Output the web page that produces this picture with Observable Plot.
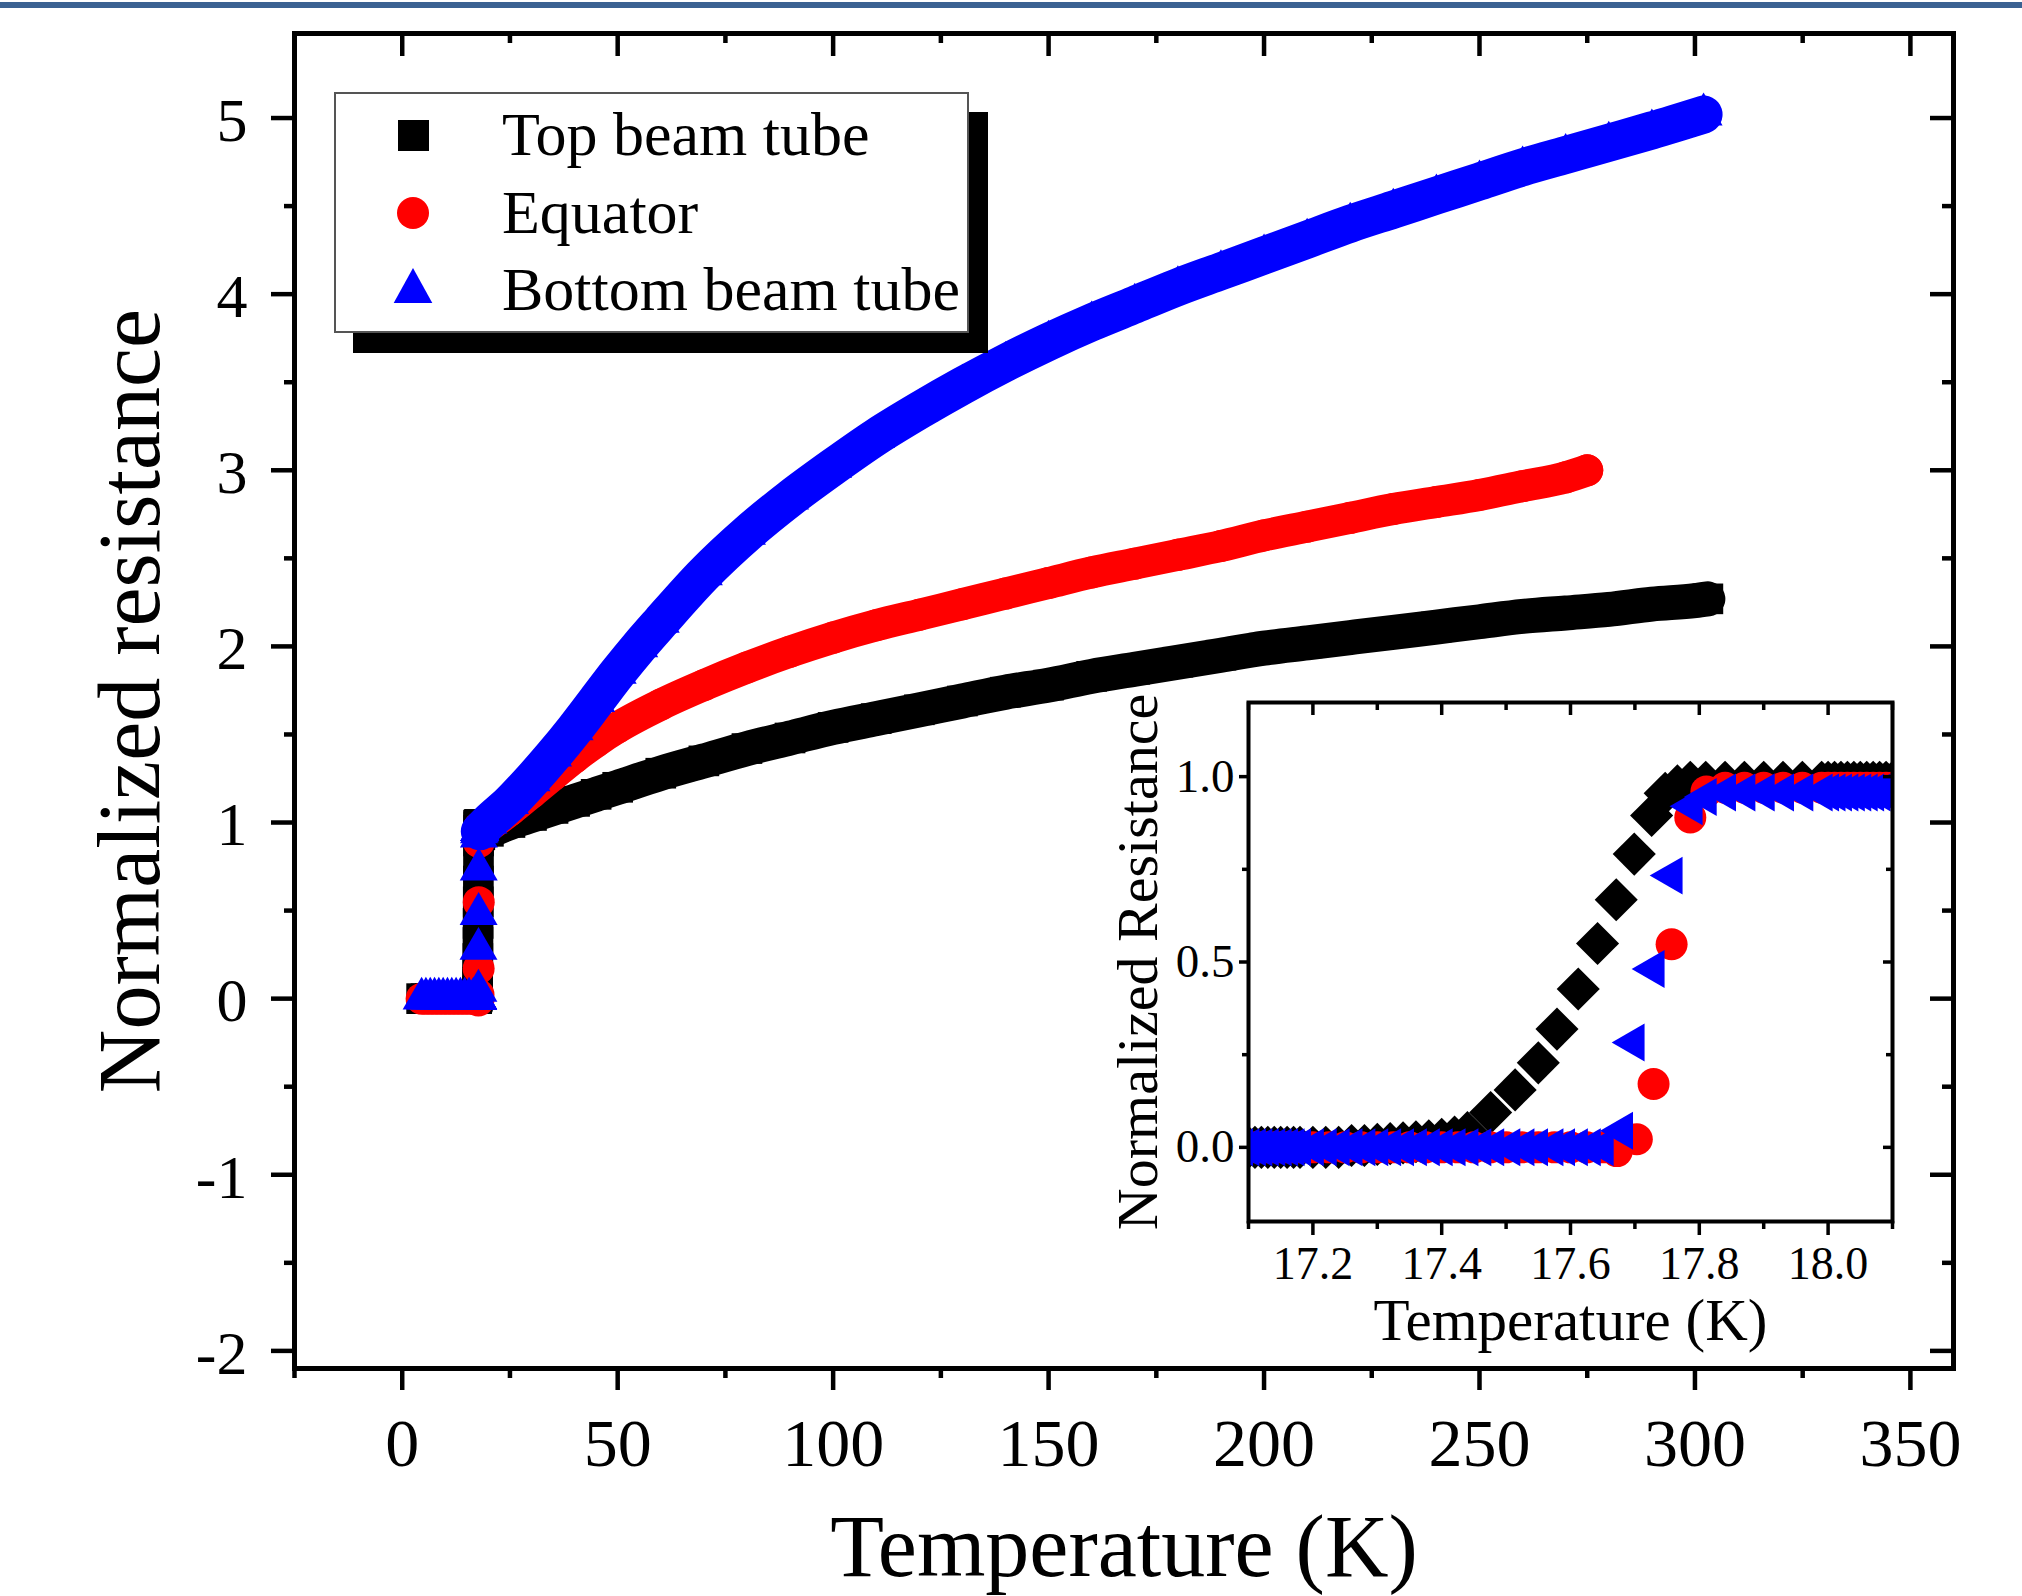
<!DOCTYPE html>
<html>
<head>
<meta charset="utf-8">
<script src="https://cdn.jsdelivr.net/npm/d3@7"></script>
<script src="https://cdn.jsdelivr.net/npm/@observablehq/plot@0.6"></script>
<style>
html,body{margin:0;padding:0;background:#fff;}
#wrap{position:relative;width:2022px;height:1596px;overflow:hidden;font-family:"Liberation Serif","Times New Roman",serif;background:#fff;}
#topbar{position:absolute;left:0;top:2px;width:2022px;height:6px;background:#3b6292;}
#main{position:absolute;left:0;top:0;}
#inset{position:absolute;left:1040px;top:660px;}
#legend{position:absolute;left:334px;top:92px;width:635px;height:241px;box-sizing:border-box;border:2px solid #555;background:#fff;box-shadow:19px 20px 0 #000;}
#legend svg{position:absolute;left:0;top:0;}
</style>
</head>
<body>
<div id="wrap">
  <div id="topbar"></div>
  <div id="main"></div>
  <div id="inset"></div>
  <div id="legend">
    <svg width="631" height="237" font-family="Liberation Serif, Times New Roman, serif" font-size="62">
      <rect x="62" y="26" width="31" height="31" fill="#000"></rect>
      <text x="166" y="61" fill="#000">Top beam tube</text>
      <circle cx="77" cy="119" r="16" fill="#ff0000"></circle>
      <text x="166" y="139" fill="#000">Equator</text>
      <polygon points="77,174 57.7,209 96.3,209" fill="#0000ff"></polygon>
      <text x="166" y="216" fill="#000">Bottom beam tube</text>
    </svg>
  </div>
</div>
<script>
// ---------- Data ----------
const seriesNames = ["Top beam tube", "Equator", "Bottom beam tube"];

// low temperature, superconducting state (main plot)
const lowT = [4.5,5.5,6.5,7.5,8.5,9.5,10.5,11.5,12.5,13.5,14.5,15.5,16.5];
const lowR = [0,0,0,0,0,0,0,0,0,0,0,0,0];

// normal state, main plot
const topT = [18,20,25,30,35,40,45,50,60,70,80,90,100,110,120,130,140,150,160,170,180,190,200,210,220,230,240,250,260,270,280,290,300,303];
const topR = [0.93,0.95,1.0,1.04,1.08,1.12,1.16,1.2,1.28,1.35,1.42,1.48,1.54,1.59,1.64,1.69,1.74,1.78,1.83,1.87,1.91,1.95,1.99,2.02,2.05,2.08,2.11,2.14,2.17,2.19,2.21,2.24,2.26,2.27];

const eqT = [18,20,25,30,35,40,45,50,60,70,80,90,100,110,120,130,140,150,160,170,180,190,200,210,220,230,240,250,260,270,275];
const eqR = [0.95,0.98,1.07,1.17,1.27,1.37,1.46,1.54,1.67,1.78,1.88,1.97,2.05,2.12,2.18,2.24,2.30,2.36,2.42,2.47,2.52,2.57,2.63,2.68,2.73,2.78,2.82,2.86,2.91,2.96,3.0];

const botT = [18,20,25,30,35,40,45,50,55,60,70,80,90,100,110,120,130,140,150,160,170,180,190,200,210,220,230,240,250,260,270,280,290,302];
const botR = [0.95,1.0,1.11,1.24,1.38,1.53,1.69,1.85,2.0,2.14,2.41,2.64,2.84,3.02,3.19,3.34,3.48,3.61,3.73,3.84,3.94,4.04,4.13,4.22,4.31,4.40,4.48,4.56,4.64,4.72,4.79,4.86,4.93,5.02];

// transition region (inset, also drawn in main plot)
const insetTopT = [17.09,17.10,17.11,17.12,17.13,17.14,17.15,17.16,17.17,17.18,17.20,17.22,17.24,17.26,17.28,17.30,17.32,17.34,17.36,17.38,17.40,17.42,17.44,17.476,17.514,17.55,17.579,17.612,17.642,17.671,17.699,17.726,17.747,17.766,17.786,17.81,17.84,17.87,17.90,17.93,17.96,17.99,18.00,18.01,18.02,18.03,18.04,18.05,18.06,18.07,18.08,18.09,18.10,18.11];
const insetTopR = [0,0,0,0,0,0,0,0,0,0,0,0,0,0.005,0.005,0.008,0.01,0.012,0.015,0.018,0.022,0.028,0.04,0.094,0.155,0.228,0.319,0.427,0.55,0.668,0.791,0.895,0.955,0.975,0.985,0.985,0.985,0.985,0.985,0.985,0.985,0.985,0.985,0.985,0.985,0.985,0.985,0.985,0.985,0.985,0.985,0.985,0.985,0.985];

const insetEqT = [17.09,17.10,17.11,17.12,17.13,17.14,17.15,17.16,17.17,17.18,17.20,17.225,17.25,17.275,17.30,17.325,17.35,17.375,17.40,17.425,17.45,17.475,17.50,17.525,17.55,17.575,17.60,17.625,17.65,17.672,17.703,17.729,17.757,17.786,17.811,17.84,17.87,17.90,17.93,17.96,17.99,18.00,18.01,18.02,18.03,18.04,18.05,18.06,18.07,18.08,18.09,18.10,18.11];
const insetEqR = [0,0,0,0,0,0,0,0,0,0,0,0,0,0,0,0,0,0,0,0,0,0,0,0,0,0,0,0,0,-0.01,0.022,0.171,0.548,0.89,0.96,0.97,0.97,0.97,0.97,0.97,0.97,0.97,0.97,0.97,0.97,0.97,0.97,0.97,0.97,0.97,0.97,0.97,0.97];

const insetBotT = [17.09,17.10,17.11,17.12,17.13,17.14,17.15,17.16,17.17,17.18,17.20,17.22,17.24,17.26,17.28,17.30,17.32,17.34,17.36,17.38,17.40,17.42,17.44,17.46,17.48,17.505,17.527,17.548,17.572,17.59,17.61,17.63,17.65,17.68,17.698,17.729,17.757,17.788,17.81,17.84,17.87,17.90,17.93,17.96,17.99,18.00,18.01,18.02,18.03,18.04,18.05,18.06,18.07,18.08,18.09,18.10,18.11];
const insetBotR = [0,0,0,0,0,0,0,0,0,0,0,0,0,0,0,0,0,0,0,0,0,0,0,0,0,0,0,0,0,0,0,0,0,0.045,0.283,0.481,0.733,0.92,0.945,0.957,0.957,0.957,0.957,0.957,0.957,0.957,0.957,0.957,0.957,0.957,0.957,0.957,0.957,0.957,0.957,0.957,0.957];

// ticks
const xMajor = [0,50,100,150,200,250,300,350];
const xMinor = [-25,25,75,125,175,225,275,325];
const yMajor = [-2,-1,0,1,2,3,4,5];
const yMinor = [-1.5,-0.5,0.5,1.5,2.5,3.5,4.5];
const ixMajor = [17.2,17.4,17.6,17.8,18.0];
const ixMinor = [17.1,17.3,17.5,17.7,17.9,18.1];
const iyMajor = [0,0.5,1.0];
const iyMinor = [0.25,0.75];

// ---------- helpers ----------
const zip = (T, R) => T.map((t, i) => ({t, r: R[i]}));
const FONT = "Liberation Serif, Times New Roman, serif";

function frameTicks(iw, ih, xs, ys, o) {
  const m = [];
  m.push(Plot.tickX(xs.major, {x: d => d, insetTop: ih, insetBottom: -o.xOutMaj, strokeWidth: o.sw}));
  m.push(Plot.tickX(xs.minor, {x: d => d, insetTop: ih, insetBottom: -o.xOutMin, strokeWidth: o.sw}));
  m.push(Plot.tickX(xs.major, {x: d => d, insetBottom: ih - o.xInMaj, strokeWidth: o.sw}));
  m.push(Plot.tickX(xs.minor, {x: d => d, insetBottom: ih - o.xInMin, strokeWidth: o.sw}));
  m.push(Plot.tickY(ys.major, {y: d => d, insetLeft: -o.yOutMaj, insetRight: iw, strokeWidth: o.sw}));
  m.push(Plot.tickY(ys.minor, {y: d => d, insetLeft: -o.yOutMin, insetRight: iw, strokeWidth: o.sw}));
  m.push(Plot.tickY(ys.major, {y: d => d, insetLeft: iw - o.yInMaj, strokeWidth: o.sw}));
  m.push(Plot.tickY(ys.minor, {y: d => d, insetLeft: iw - o.yInMin, strokeWidth: o.sw}));
  return m;
}

// ---------- main plot ----------
const W = 2022, H = 1596, mL = 294, mR = 69, mT = 33, mB = 228;
const iw = W - mL - mR, ih = H - mT - mB;

const topDots = [...zip(lowT, lowR), ...zip(insetTopT, insetTopR), ...zip(topT, topR)];
const eqDots  = [...zip(lowT, lowR), ...zip(insetEqT, insetEqR), ...zip(eqT, eqR)];
const botDots = [...zip(lowT, lowR), ...zip(insetBotT, insetBotR), ...zip(botT, botR)];

const main = Plot.plot({
  width: W, height: H,
  marginLeft: mL, marginRight: mR, marginTop: mT, marginBottom: mB,
  style: {fontFamily: FONT, background: "transparent", overflow: "visible"},
  x: {domain: [-25, 360], axis: null},
  y: {domain: [-2.1, 5.48], axis: null},
  marks: [
    Plot.dot(topDots, {x: "t", y: "r", symbol: "square", r: 17.3, fill: "#000"}),
    Plot.line(zip(topT, topR), {x: "t", y: "r", stroke: "#000", strokeWidth: 35, curve: "monotone-x", strokeLinejoin: "round"}),
    Plot.dot(eqDots, {x: "t", y: "r", symbol: "circle", r: 16, fill: "#ff0000"}),
    Plot.line(zip(eqT, eqR), {x: "t", y: "r", stroke: "#ff0000", strokeWidth: 32, curve: "monotone-x", strokeLinejoin: "round", strokeLinecap: "round"}),
    Plot.dot(botDots, {x: "t", y: "r", symbol: "triangle", r: 14.1, fill: "#0000ff"}),
    Plot.line(zip(botT, botR), {x: "t", y: "r", stroke: "#0000ff", strokeWidth: 38, curve: "monotone-x", strokeLinejoin: "round"}),
    Plot.frame({stroke: "#000", strokeWidth: 5}),
    ...frameTicks(iw, ih, {major: xMajor, minor: xMinor}, {major: yMajor, minor: yMinor},
      {sw: 4.5, xOutMaj: 22, xOutMin: 10, xInMaj: 23, xInMin: 10, yOutMaj: 23, yOutMin: 10, yInMaj: 23, yInMin: 11}),
    Plot.text(xMajor, {x: d => d, text: d => String(d), frameAnchor: "bottom", dy: 76, fontSize: 68, fontFamily: FONT, lineAnchor: "middle", textAnchor: "middle"}),
    Plot.text(yMajor, {y: d => d, text: d => String(d), frameAnchor: "left", dx: -47, dy: 3, fontSize: 62, fontFamily: FONT, lineAnchor: "middle", textAnchor: "end"}),
    Plot.text(["Temperature (K)"], {text: d => d, frameAnchor: "bottom", dy: 179, fontSize: 88, fontFamily: FONT, lineAnchor: "middle", textAnchor: "middle"}),
    Plot.text(["Normalized resistance"], {text: d => d, frameAnchor: "left", dx: -164, rotate: -90, fontSize: 88, fontFamily: FONT, lineAnchor: "middle", textAnchor: "middle"})
  ]
});
document.getElementById("main").appendChild(main);

// ---------- inset ----------
const IW = 890, IH = 720, imL = 208, imR = 38, imT = 42, imB = 159;
const iiw = IW - imL - imR, iih = IH - imT - imB;

const inset = Plot.plot({
  width: IW, height: IH,
  marginLeft: imL, marginRight: imR, marginTop: imT, marginBottom: imB,
  style: {fontFamily: FONT, background: "transparent", overflow: "visible"},
  x: {domain: [17.1, 18.1], axis: null},
  y: {domain: [-0.2, 1.2], axis: null},
  marks: [
    Plot.dot(zip(insetTopT, insetTopR), {x: "t", y: "r", symbol: "square", r: 17.2, rotate: 45, fill: "#000", clip: true}),
    Plot.dot(zip(insetEqT, insetEqR), {x: "t", y: "r", symbol: "circle", r: 16, fill: "#ff0000", clip: true}),
    Plot.dot(zip(insetBotT, insetBotR), {x: "t", y: "r", symbol: "triangle", r: 14.1, rotate: -90, fill: "#0000ff", clip: true}),
    Plot.frame({stroke: "#000", strokeWidth: 4}),
    ...frameTicks(iiw, iih, {major: ixMajor, minor: ixMinor}, {major: iyMajor, minor: iyMinor},
      {sw: 3.5, xOutMaj: 14, xOutMin: 8, xInMaj: 13, xInMin: 8, yOutMaj: 9, yOutMin: 6, yInMaj: 9, yInMin: 6}),
    Plot.text(ixMajor, {x: d => d, text: d => d.toFixed(1), frameAnchor: "bottom", dy: 43, fontSize: 46, fontFamily: FONT, lineAnchor: "middle", textAnchor: "middle"}),
    Plot.text(iyMajor, {y: d => d, text: d => d.toFixed(1), frameAnchor: "left", dx: -14, fontSize: 47, fontFamily: FONT, lineAnchor: "middle", textAnchor: "end"}),
    Plot.text(["Temperature (K)"], {text: d => d, frameAnchor: "bottom", dy: 100, fontSize: 59, fontFamily: FONT, lineAnchor: "middle", textAnchor: "middle"}),
    Plot.text(["Normalized Resistance"], {text: d => d, frameAnchor: "left", dx: -110, rotate: -90, fontSize: 58, fontFamily: FONT, lineAnchor: "middle", textAnchor: "middle"})
  ]
});
document.getElementById("inset").appendChild(inset);
</script>
</body>
</html>
